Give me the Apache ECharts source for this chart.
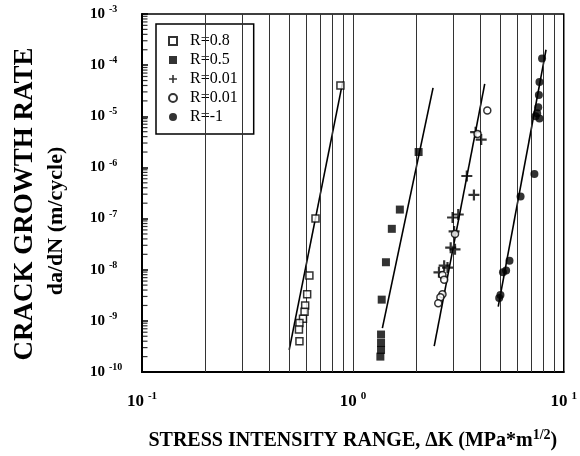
<!DOCTYPE html>
<html>
<head>
<meta charset="utf-8">
<script src="https://cdn.jsdelivr.net/npm/echarts@6/dist/echarts.min.js"></script>
<style>
  html, body { margin: 0; padding: 0; background: #fff; }
  #crackRate { width: 580px; height: 456px; }
</style>
</head>
<body>
<div id="crackRate"></div>
<script>
// measured points, [deltaK, da/dN]
var r08 = [[0.873, 4.0e-5], [0.665, 1.0e-7], [0.622, 7.7e-9], [0.607, 3.3e-9], [0.594, 2.0e-9],
  [0.59, 1.5e-9], [0.58, 1.1e-9], [0.558, 9.1e-10], [0.555, 6.8e-10], [0.558, 4.0e-10]];
var r05 = [[2.05, 2.0e-6], [1.67, 1.5e-7], [1.53, 6.3e-8], [1.435, 1.4e-8], [1.37, 2.6e-9],
  [1.36, 5.4e-10], [1.36, 3.7e-10], [1.36, 2.7e-10], [1.35, 2.0e-10]];
var r001Plus = [[3.82, 4.9e-6], [4.06, 3.5e-6], [3.47, 6.8e-7], [3.75, 2.9e-7], [2.97, 1.05e-7],
  [3.16, 1.2e-7], [3.02, 5.6e-8], [2.91, 2.7e-8], [3.05, 2.5e-8], [2.56, 8.9e-9], [2.71, 1.2e-8], [2.81, 1.1e-8]];
var r001Circle = [[4.34, 1.3e-5], [3.9, 4.5e-6], [3.05, 5.0e-8], [2.66, 7.9e-9], [2.71, 6.4e-9],
  [2.66, 3.3e-9], [2.60, 2.9e-9], [2.54, 2.2e-9]];
var rMinus1 = [[7.89, 1.35e-4], [7.67, 4.7e-5], [7.62, 2.6e-5], [7.57, 1.5e-5], [7.48, 1.15e-5],
  [7.35, 1.0e-5], [7.67, 9.1e-6], [7.26, 7.4e-7], [6.24, 2.7e-7], [5.53, 1.5e-8], [5.33, 9.6e-9],
  [5.15, 8.9e-9], [5.01, 3.2e-9], [4.94, 2.8e-9]];

// fitted lines (end points)
var fit08 = [[0.499, 2.7e-10], [0.895, 4.7e-5]];
var fit05 = [[1.38, 7.2e-10], [2.40, 3.6e-5]];
var fit001 = [[2.43, 3.2e-10], [4.22, 4.3e-5]];
var fitM1 = [[4.89, 1.9e-9], [8.24, 2.0e-4]];

// vertical grid lines and left minor ticks
var gridX = [0.2, 0.3, 0.4, 0.5, 0.6, 0.7, 0.8, 0.9, 1, 2, 3, 4, 5, 6, 7, 8, 9];
var minorY = [];
[1e-10, 1e-9, 1e-8, 1e-7, 1e-6, 1e-5, 1e-4].forEach(function (d) {
  for (var k = 2; k <= 9; k++) minorY.push([0.1, k * d]);
});

var legendNames = ['R=0.8', 'R=0.5', 'R=0.01', 'R=0.01 ', 'R=-1'];
var plusPath = 'path://M0,4h10v2h-10z M4,0h2v10h-2z';
var serif = '"Liberation Serif", "DejaVu Serif", serif';

function powLabel(v) {
  var e = Math.round(Math.log10(v));
  return '{b|10}{s|' + e + '}';
}

function fitLine(d) {
  return {
    type: 'line', data: d, symbol: 'none', silent: true,
    lineStyle: { color: '#000', width: 1.6 }, z: 4
  };
}

var chart = echarts.init(document.getElementById('crackRate'));
chart.setOption({
  animation: false,
  backgroundColor: '#fff',
  grid: { left: 142, right: 14, top: 14, bottom: 78, show: true, borderColor: '#000', borderWidth: 1.5 },
  legend: {
    data: legendNames,
    orient: 'vertical',
    left: 156, top: 24,
    borderColor: '#000', borderWidth: 1.5,
    padding: [9, 12, 9, 12],
    itemGap: 3,
    itemWidth: 8, itemHeight: 8,
    textStyle: { fontFamily: serif, fontSize: 16, color: '#000', padding: [0, 0, 0, 8] }
  },
  xAxis: {
    type: 'log', logBase: 10, min: 0.1, max: 10,
    axisLine: { lineStyle: { color: '#000', width: 2 } },
    axisTick: { show: false },
    splitLine: { show: false },
    axisLabel: {
      margin: 19, formatter: powLabel,
      rich: {
        b: { fontFamily: serif, fontWeight: 'bold', fontSize: 17, color: '#000' },
        s: { fontFamily: serif, fontWeight: 'bold', fontSize: 11, color: '#000', verticalAlign: 'top', padding: [0, 0, 10, 4] }
      }
    },
    name: '{t|STRESS INTENSITY RANGE, \u0394K (MPa*m}{s|1/2}{t|)}',
    nameLocation: 'middle', nameGap: 56,
    nameTextStyle: {
      rich: {
        t: { fontFamily: serif, fontWeight: 'bold', fontSize: 20, color: '#000' },
        s: { fontFamily: serif, fontWeight: 'bold', fontSize: 14, color: '#000', verticalAlign: 'top', padding: [0, 0, 12, 0] }
      }
    }
  },
  yAxis: {
    type: 'log', logBase: 10, min: 1e-10, max: 1e-3,
    axisLine: { lineStyle: { color: '#000', width: 2 } },
    axisTick: { inside: true, length: 6, lineStyle: { color: '#000', width: 1.5 } },
    splitLine: { show: false },
    axisLabel: {
      margin: 52, align: 'left', formatter: powLabel,
      rich: {
        b: { fontFamily: serif, fontWeight: 'bold', fontSize: 15, color: '#000' },
        s: { fontFamily: serif, fontWeight: 'bold', fontSize: 10, color: '#000', verticalAlign: 'top', padding: [0, 0, 9, 4] }
      }
    }
  },
  graphic: [
    {
      type: 'text', x: 25, y: 204, rotation: Math.PI / 2,
      style: { text: 'CRACK GROWTH RATE', font: 'bold 27px ' + serif, fill: '#000', align: 'center', verticalAlign: 'middle' }
    },
    {
      type: 'text', x: 56, y: 221, rotation: Math.PI / 2,
      style: { text: 'da/dN (m/cycle)', font: 'bold 22px ' + serif, fill: '#000', align: 'center', verticalAlign: 'middle' }
    }
  ],
  series: [
    {
      type: 'scatter', data: minorY, silent: true, z: 3,
      symbol: 'rect', symbolSize: [5, 1.2], symbolOffset: [3, 0],
      itemStyle: { color: '#000' },
      markLine: {
        silent: true, symbol: 'none', label: { show: false },
        lineStyle: { color: '#333', width: 1, type: 'solid' },
        data: gridX.map(function (v) { return { xAxis: v }; })
      }
    },
    fitLine(fit08), fitLine(fit05), fitLine(fit001), fitLine(fitM1),
    {
      name: legendNames[0], type: 'scatter', data: r08, symbol: 'rect', symbolSize: 7, z: 5,
      itemStyle: { color: '#fff', borderColor: '#000', borderWidth: 1.5 }
    },
    {
      name: legendNames[1], type: 'scatter', data: r05, symbol: 'rect', symbolSize: 8, z: 5,
      itemStyle: { color: '#000' }
    },
    {
      name: legendNames[2], type: 'scatter', data: r001Plus, symbol: plusPath, symbolSize: 11, z: 5,
      itemStyle: { color: '#000' }
    },
    {
      name: legendNames[3], type: 'scatter', data: r001Circle, symbol: 'circle', symbolSize: 7, z: 5,
      itemStyle: { color: '#fff', borderColor: '#000', borderWidth: 1.5 }
    },
    {
      name: legendNames[4], type: 'scatter', data: rMinus1, symbol: 'circle', symbolSize: 8, z: 5,
      itemStyle: { color: '#000' }
    }
  ]
});
</script>
</body>
</html>
